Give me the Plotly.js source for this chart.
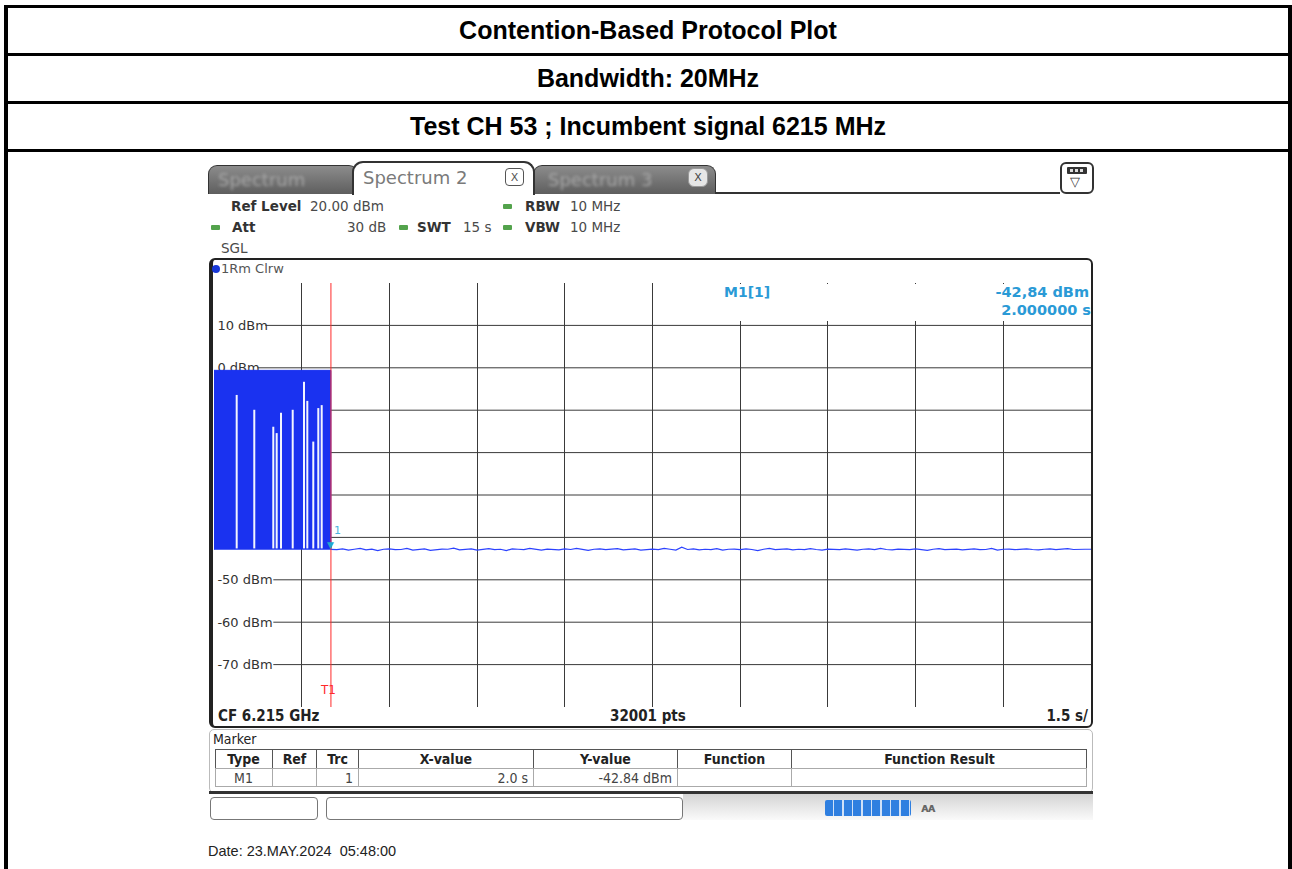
<!DOCTYPE html>
<html><head><meta charset="utf-8">
<script src="https://cdn.plot.ly/plotly-3.0.1.min.js"></script>
<style>
html,body{margin:0;padding:0;background:#fff;}
body{width:1292px;height:869px;position:relative;overflow:hidden;font-family:"DejaVu Sans",sans-serif;}
.bl{position:absolute;background:#000;}
.title{position:absolute;left:8px;width:1280px;display:flex;align-items:center;justify-content:center;font-family:"Liberation Sans",Arial,sans-serif;font-weight:bold;font-size:25px;color:#000;line-height:1;}
.t{position:absolute;white-space:nowrap;font-size:13.5px;color:#4a4a4a;line-height:16px;height:16px;}
.b{font-weight:bold;color:#333;}
.g{position:absolute;width:9px;height:5px;background:#53a34c;border-radius:1px;}
.c{font-family:"DejaVu Sans Condensed","DejaVu Sans",sans-serif;}
.tab{position:absolute;box-sizing:border-box;}
.cell{position:absolute;box-sizing:border-box;top:0;height:100%;display:flex;align-items:center;justify-content:center;}
</style></head>
<body>
<!-- outer table -->
<div class="bl" style="left:4px;top:5px;width:1288px;height:3px"></div>
<div class="bl" style="left:4px;top:5px;width:4px;height:864px"></div>
<div class="bl" style="left:1288px;top:5px;width:4px;height:864px"></div>
<div class="bl" style="left:4px;top:53px;width:1288px;height:3px"></div>
<div class="bl" style="left:4px;top:101px;width:1288px;height:3px"></div>
<div class="bl" style="left:4px;top:149px;width:1288px;height:3px"></div>
<div class="title" style="top:8px;height:45px">Contention-Based Protocol Plot</div>
<div class="title" style="top:56px;height:45px">Bandwidth: 20MHz</div>
<div class="title" style="top:104px;height:45px">Test CH 53 ; Incumbent signal 6215 MHz</div>

<!-- tabs -->
<div class="tab" style="left:208px;top:165px;width:150px;height:29px;background:linear-gradient(#8c8c8c,#5e5e5e);border:1px solid #333;border-bottom:none;border-radius:9px 9px 0 0;"></div>
<div class="t" style="left:218px;top:170px;font-size:18px;line-height:20px;height:20px;color:#a8a8a8;filter:blur(1.5px)">Spectrum</div>
<div class="tab" style="left:533px;top:165px;width:183px;height:29px;background:linear-gradient(#8c8c8c,#5e5e5e);border:1px solid #333;border-bottom:none;border-radius:9px 9px 0 0;"></div>
<div class="t" style="left:548px;top:170px;font-size:18px;line-height:20px;height:20px;color:#a8a8a8;filter:blur(1.5px)">Spectrum 3</div>
<div class="tab" style="left:688px;top:168px;width:20px;height:19px;background:#e6e6e6;border-radius:6px;border:1px solid #999;display:flex;align-items:center;justify-content:center;font-size:11px;color:#444">X</div>
<div class="tab" style="left:352px;top:161px;width:183px;height:34px;background:#fff;border:2px solid #333;border-bottom:none;border-radius:11px 11px 0 0;"></div>
<div class="t" style="left:363px;top:168px;font-size:18px;line-height:20px;height:20px;color:#7a7a7a">Spectrum 2</div>
<div class="tab" style="left:505px;top:168px;width:19px;height:18px;border:1.5px solid #555;border-radius:4px;display:flex;align-items:center;justify-content:center;font-size:11px;color:#555">X</div>
<div class="bl" style="left:716px;top:192px;width:344px;height:2px;background:#333"></div>
<div class="tab" style="left:1060px;top:162px;width:34px;height:32px;border:2px solid #333;border-radius:6px;background:#fff"></div>
<div class="tab" style="left:1067px;top:167px;width:20px;height:7px;background:#333;border-radius:1px"></div>
<div class="tab" style="left:1070px;top:169px;width:3px;height:3px;background:#ddd"></div>
<div class="tab" style="left:1075px;top:169px;width:3px;height:3px;background:#ddd"></div>
<div class="tab" style="left:1080px;top:169px;width:3px;height:3px;background:#ddd"></div>
<div class="t" style="left:1070px;top:174px;font-size:13px;color:#333">▽</div>

<!-- header info -->
<div class="t b" style="left:231px;top:198px">Ref Level</div>
<div class="t" style="left:310px;top:198px">20.00 dBm</div>
<div class="g" style="left:503px;top:204px"></div>
<div class="t b" style="left:525px;top:198px">RBW</div>
<div class="t" style="left:570px;top:198px">10 MHz</div>
<div class="g" style="left:211px;top:225px"></div>
<div class="t b" style="left:232px;top:219px">Att</div>
<div class="t" style="left:347px;top:219px">30 dB</div>
<div class="g" style="left:399px;top:225px"></div>
<div class="t b" style="left:417px;top:219px">SWT</div>
<div class="t" style="left:463px;top:219px">15 s</div>
<div class="g" style="left:503px;top:225px"></div>
<div class="t b" style="left:525px;top:219px">VBW</div>
<div class="t" style="left:570px;top:219px">10 MHz</div>
<div class="t" style="left:221px;top:240px">SGL</div>

<!-- diagram frame -->
<div class="tab" style="left:209px;top:258px;width:884px;height:470px;border:2px solid #222;border-left:4px solid #222;border-radius:6px;"></div>
<div class="tab" style="left:212px;top:265px;width:8px;height:8px;border-radius:50%;background:#1838d8"></div>
<div class="t" style="left:221px;top:261px;font-size:13px;color:#555">1Rm Clrw</div>

<div id="plot" style="position:absolute;left:214px;top:283px;width:877px;height:424px;"></div>

<!-- marker readout -->
<div class="tab" style="left:655px;top:284px;width:435px;height:37px;background:#fff;z-index:5"></div>
<div class="t b" style="left:724px;top:284px;color:#2a9ad6;font-size:14px;z-index:6">M1[1]</div>
<div class="t b" style="right:203px;top:284px;color:#2a9ad6;font-size:14.5px;z-index:6">-42,84 dBm</div>
<div class="t b" style="right:201px;top:302px;color:#2a9ad6;font-size:14.5px;z-index:6">2.000000 s</div>

<!-- CF row -->
<div class="t b c" style="left:218px;top:708px;font-size:15px;color:#222">CF 6.215 GHz</div>
<div class="t b c" style="left:610px;top:708px;font-size:15px;color:#222">32001 pts</div>
<div class="t b c" style="right:204px;top:708px;font-size:15px;color:#222">1.5 s/</div>

<!-- marker panel -->
<div class="tab" style="left:209px;top:729px;width:884px;height:64px;border:1px solid #bbb;border-radius:5px;"></div>
<div class="bl" style="left:209px;top:791px;width:884px;height:3px;background:#333"></div>
<div class="t c" style="left:213px;top:731px;font-size:14px;color:#222">Marker</div>

<!-- status bar -->
<div class="tab" style="left:683px;top:794px;width:410px;height:26px;background:linear-gradient(#d4d4d4,#fafafa)"></div>
<div class="tab" style="left:210px;top:797px;width:108px;height:23px;border:1px solid #777;border-radius:4px;background:#fff"></div>
<div class="tab" style="left:326px;top:797px;width:357px;height:23px;border:1px solid #777;border-radius:4px;background:#fff"></div>
<div class="tab" style="left:825px;top:800px;width:86px;height:16px;background:repeating-linear-gradient(90deg,#2f7fe0 0 8px,#cfe0f7 8px 9.5px);border-radius:2px"></div>
<div class="t b" style="left:921px;top:800px;font-size:12px;color:#666;letter-spacing:-1px">ᴀᴀ</div>

<div class="t" style="left:208px;top:843px;font-family:'Liberation Sans',Arial,sans-serif;font-size:14.5px;color:#222">Date: 23.MAY.2024&nbsp; 05:48:00</div>

<script>
// ---- data ----
const sweepRange = [0, 15];            // s (10 div x 1.5 s)
const levelRange = [-80, 20];          // dBm (ref level 20 dBm, 10 dB/div)
const yTickVals  = [20, 10, 0, -10, -20, -30, -40, -50, -60, -70, -80];
const yTickText  = ['', '10 dBm', '0 dBm', '-10 dBm', '-20 dBm', '-30 dBm', '-40 dBm', '-50 dBm', '-60 dBm', '-70 dBm', ''];
const burstTimes  = [0.0, 2.0];        // s, start / end of incumbent transmission
const burstLevels = [-0.6, -42.9];     // dBm, top of burst / floor under it
const gapTimes = [0.388, 0.689, 1.014, 1.072, 1.146, 1.346, 1.539, 1.596, 1.698, 1.784, 1.842];
const gapTops  = [-6.4, -9.9, -13.9, -15.4, -10.6, -9.9, -3.3, -7.8, -17.4, -9.5, -8.8];
const noiseStart = 2.0, noiseStep = 0.1;   // s
const noiseLevels = [
 -42.84,-42.9,-42.7,-43.0,-42.8,-42.6,-42.95,-42.75,-43.1,-42.8,
 -42.7,-42.9,-42.85,-42.6,-43.0,-42.8,-42.7,-43.05,-42.9,-42.75,
 -42.8,-42.55,-42.95,-42.8,-42.7,-43.0,-42.85,-42.65,-42.9,-42.8,
 -43.1,-42.7,-42.8,-42.9,-42.6,-42.85,-43.0,-42.75,-42.8,-42.95,
 -42.7,-42.85,-42.6,-42.9,-43.05,-42.8,-42.7,-42.9,-42.8,-42.65,
 -42.95,-42.8,-42.7,-43.0,-42.85,-42.75,-42.9,-42.6,-42.8,-43.0,
 -42.3,-42.85,-42.7,-42.95,-42.8,-42.9,-42.65,-43.0,-42.8,-42.75,
 -42.9,-42.7,-42.85,-43.1,-42.8,-42.6,-42.9,-42.8,-42.7,-42.95,
 -42.8,-42.9,-42.65,-42.85,-43.0,-42.75,-42.8,-42.9,-42.7,-42.85,
 -43.0,-42.8,-42.7,-42.9,-42.6,-42.85,-42.95,-42.75,-42.8,-42.9,
 -42.7,-42.85,-43.05,-42.8,-42.65,-42.9,-42.8,-42.75,-42.95,-42.8,
 -42.7,-42.9,-42.85,-42.6,-43.0,-42.8,-42.75,-42.9,-42.8,-42.7,
 -42.85,-42.95,-42.8,-42.7,-42.9,-42.8,-42.65,-42.85,-42.9,-42.8,
 -42.8];
const markerTime = 2.0, markerLevel = -42.84;
const tableCols  = ['Type', 'Ref', 'Trc', 'X-value', 'Y-value', 'Function', 'Function Result'];
const tableRow   = ['M1', '', '1', '2.0 s', '-42.84 dBm', '', ''];

// ---- marker table (HTML) ----
(function(){
  const edges = [215, 272, 316, 358, 533, 677, 791, 1087];
  const align = ['center','center','flex-end','flex-end','flex-end','center','center'];
  const mk = (top, h, border, texts, bold, useAlign) => {
    const row = document.createElement('div');
    row.className = 'tab c';
    row.style.cssText = `left:215px;top:${top}px;width:872px;height:${h}px;border:1px solid ${border};font-size:14px;color:${bold?'#222':'#444'};font-weight:${bold?'bold':'normal'}`;
    texts.forEach((tx, i) => {
      const c = document.createElement('div');
      c.className = 'cell';
      c.style.left = (edges[i]-215-1) + 'px';
      c.style.width = (edges[i+1]-edges[i]) + 'px';
      if (i > 0) c.style.borderLeft = '1px solid ' + border;
      c.style.justifyContent = useAlign ? align[i] : 'center';
      c.style.paddingRight = useAlign && align[i]==='flex-end' ? '5px' : '0';
      c.textContent = tx;
      row.appendChild(c);
    });
    document.body.appendChild(row);
  };
  mk(749, 20, '#555', tableCols, true, false);
  mk(768, 19, '#aaa', tableRow, false, true);
})();

// ---- plot ----
const burstX = [burstTimes[0], burstTimes[0], burstTimes[1], burstTimes[1]];
const burstY = [burstLevels[1], burstLevels[0], burstLevels[0], burstLevels[1]];
const gapX = [], gapY = [];
gapTimes.forEach((t, i) => { gapX.push(t, t, null); gapY.push(burstLevels[1] + 0.3, gapTops[i], null); });
const noiseX = noiseLevels.map((_, i) => noiseStart + i * noiseStep);

const traces = [
  {x: burstX, y: burstY, mode: 'lines', fill: 'toself', fillcolor: '#1a32f0', line: {color: '#1a32f0', width: 1}, hoverinfo: 'skip'},
  {x: gapX, y: gapY, mode: 'lines', line: {color: '#f2f4ff', width: 2}, hoverinfo: 'skip'},
  {x: noiseX, y: noiseLevels, mode: 'lines', line: {color: '#2c42ff', width: 1.2}, hoverinfo: 'skip'}
];

// horizontal graticule lines, drawn as shapes so that they stop where the level label sits
const plotWidthPx = 877;
const gridShapes = yTickVals.slice(1, -1).map((v, k) => {
  const lbl = yTickText[k + 1];
  return {
    type: 'line', layer: 'below', xref: 'paper', yref: 'y',
    x0: lbl ? (lbl.length * 7.9 + 4) / plotWidthPx : 0, x1: 1, y0: v, y1: v,
    line: {color: '#3a3a3a', width: 1}
  };
});

const layout = {
  width: 877, height: 424,
  margin: {l: 0, r: 0, t: 0, b: 0},
  paper_bgcolor: 'rgba(0,0,0,0)', plot_bgcolor: '#fff',
  showlegend: false,
  xaxis: {range: sweepRange, tick0: 0, dtick: 1.5, showgrid: true, gridcolor: '#3a3a3a', gridwidth: 1,
          showticklabels: false, ticks: '', zeroline: false, showline: true, mirror: true, linecolor: '#222', linewidth: 1, fixedrange: true},
  yaxis: {range: levelRange, tickvals: yTickVals, ticktext: yTickText, ticklabelposition: 'inside', ticklabelstandoff: 3,
          tickfont: {family: 'DejaVu Sans', size: 13, color: '#333'}, showgrid: false,
          ticks: '', zeroline: false, showline: true, mirror: true, linecolor: '#222', linewidth: 1, layer: 'below traces', fixedrange: true},
  shapes: gridShapes.concat([
    {type: 'line', xref: 'x', yref: 'paper', x0: markerTime, x1: markerTime, y0: 0, y1: 1, line: {color: '#ff2a2a', width: 1}, layer: 'above'}
  ]),
  annotations: [
    {x: markerTime, y: 0.02, xref: 'x', yref: 'paper', text: 'T1', showarrow: false, xanchor: 'center', yanchor: 'bottom', xshift: -3,
     font: {family: 'DejaVu Sans', size: 12, color: '#ff2a2a'}},
    {x: markerTime, y: markerLevel, xref: 'x', yref: 'y', text: '▼', showarrow: false, xanchor: 'center', yanchor: 'bottom', yshift: -3,
     font: {family: 'DejaVu Sans', size: 9, color: '#22a6cf'}},
    {x: markerTime, y: markerLevel, xref: 'x', yref: 'y', text: '1', showarrow: false, xanchor: 'left', yanchor: 'bottom', yshift: 10, xshift: 1,
     font: {family: 'DejaVu Sans', size: 11, color: '#4ab4e0'}}
  ]
};

Plotly.newPlot('plot', traces, layout, {staticPlot: true, displayModeBar: false});
</script>
</body></html>
